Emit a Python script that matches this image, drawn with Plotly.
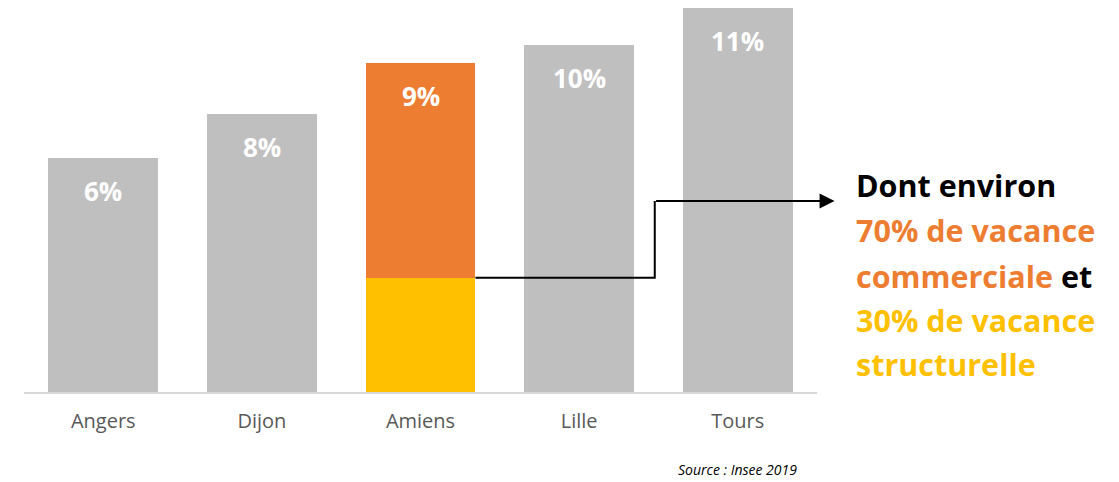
import plotly.graph_objects as go

# ---- data ----
cities = ["Angers", "Dijon", "Amiens", "Lille", "Tours"]
total_rate = [6.7, 7.96, 9.42, 9.94, 11.0]          # bar heights (%)
value_labels = ["6%", "8%", "9%", "10%", "11%"]
highlight_city = "Amiens"
amiens_structural = 3.27                              # yellow part
amiens_commercial = 6.15                              # orange part
note_lines = [
    ("Dont environ", None),
    ("70% de vacance", "orange"),
    ("commerciale", "orange_et"),
    ("30% de vacance", "yellow"),
    ("structurelle", "yellow"),
]
source_text = "Source : Insee 2019"

# ---- styles ----
GRAY = "#BFBFBF"
ORANGE = "#ED7D31"
YELLOW = "#FFC000"
FONT = "Open Sans"

W, H = 1119, 482
ML, MR, MT, MB = 23.6, 1119 - 817.4, 8, 90
PW = W - ML - MR
PH = H - MT - MB
YMAX = 11.0

gray_vals = [None if c == highlight_city else v for c, v in zip(cities, total_rate)]
yellow_vals = [amiens_structural if c == highlight_city else None for c in cities]
orange_vals = [amiens_commercial if c == highlight_city else None for c in cities]

fig = go.Figure()
fig.add_bar(x=cities, y=gray_vals, marker_color=GRAY, marker_line_width=0, hoverinfo="skip")
fig.add_bar(x=cities, y=yellow_vals, marker_color=YELLOW, marker_line_width=0, hoverinfo="skip")
fig.add_bar(x=cities, y=orange_vals, marker_color=ORANGE, marker_line_width=0, hoverinfo="skip")

BARGAP = 0.307
annotations = []
for c, v, lab in zip(cities, total_rate, value_labels):
    annotations.append(dict(x=c, y=v, xref="x", yref="y", text=f"<b>{lab}</b>",
                            showarrow=False, yshift=-33, yanchor="middle",
                            font=dict(family=FONT, size=26, color="white")))


def px_to_paper_x(px):
    return (px - ML) / PW


def px_to_paper_y(py):
    return (H - MB - py) / PH


# connector from top of yellow part to the note
idx = cities.index(highlight_city)
x_start = idx + (1 - BARGAP) / 2
x_turn = (655 - ML) / (PW / len(cities)) - 0.5
y_turn = (H - MB - 201) / PH * YMAX
shapes = [dict(type="path", xref="x", yref="y",
               path=f"M {x_start},{amiens_structural} L {x_turn},{amiens_structural} L {x_turn},{y_turn}",
               line=dict(color="black", width=2))]
annotations.append(dict(x=px_to_paper_x(835), y=y_turn, xref="paper", yref="y",
                        ax=-(835 - 655), ay=0, axref="pixel", ayref="pixel",
                        text="", showarrow=True, arrowhead=2, arrowsize=1.5,
                        arrowwidth=2, arrowcolor="black", standoff=0, startstandoff=0))

# note text
line_centers = [185, 230.5, 275.5, 320, 364]
for (txt, kind), py in zip(note_lines, line_centers):
    if kind is None:
        t = f"<b>{txt}</b>"
        col = "black"
    elif kind == "orange":
        t = f"<b>{txt}</b>"
        col = ORANGE
    elif kind == "orange_et":
        t = f"<b>{txt}<span style='color:black'> et</span></b>"
        col = ORANGE
    else:
        t = f"<b>{txt}</b>"
        col = YELLOW
    annotations.append(dict(x=px_to_paper_x(854), y=px_to_paper_y(py), xref="paper", yref="paper",
                            text=t, showarrow=False, xanchor="left", yanchor="middle",
                            font=dict(family=FONT, size=30.5, color=col)))

annotations.append(dict(x=px_to_paper_x(799), y=px_to_paper_y(469), xref="paper", yref="paper",
                        text=f"<i>{source_text}</i>", showarrow=False, xanchor="right",
                        yanchor="middle", font=dict(family=FONT, size=14, color="black")))

fig.update_layout(
    width=W, height=H,
    margin=dict(l=ML, r=MR, t=MT, b=MB, pad=0),
    barmode="stack", bargap=BARGAP, showlegend=False,
    plot_bgcolor="white", paper_bgcolor="white",
    xaxis=dict(showline=True, linecolor="#D9D9D9", linewidth=1.5, ticks="",
               showgrid=False, zeroline=False, ticklabelstandoff=10,
               tickfont=dict(family=FONT, size=20, color="#595959"),
               fixedrange=True),
    yaxis=dict(range=[0, YMAX], visible=False, showgrid=False, zeroline=False, fixedrange=True),
    shapes=shapes, annotations=annotations,
)

fig.write_html("out.html", config={"displayModeBar": False},
               post_script="document.body.style.margin='0';document.body.style.overflow='hidden';")
